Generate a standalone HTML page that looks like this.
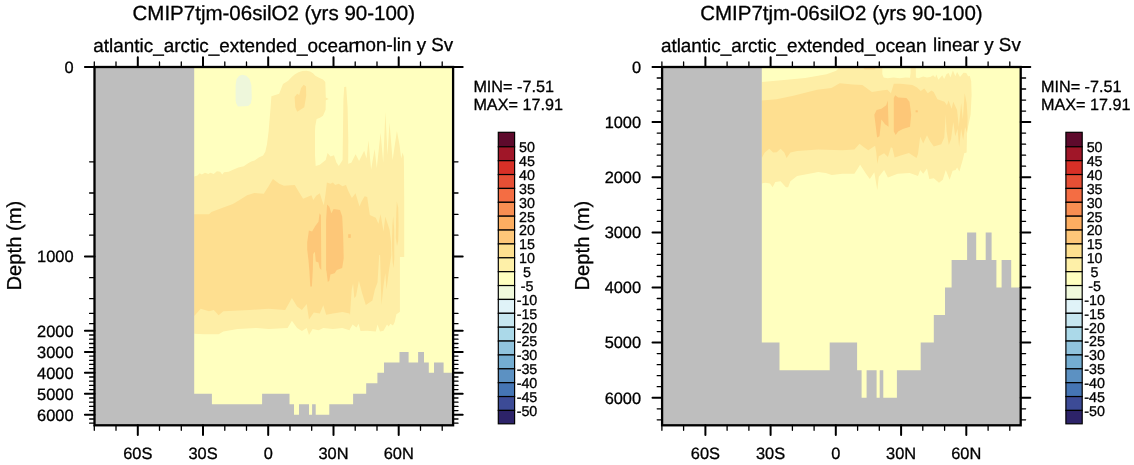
<!DOCTYPE html>
<html><head><meta charset="utf-8"><title>CMIP7tjm-06silO2 (yrs 90-100)</title>
<style>
html,body{margin:0;padding:0;background:#fff;}
svg{display:block;}
text{font-family:"Liberation Sans",Arial,Helvetica,sans-serif;fill:#000;stroke:#000;stroke-width:0.3px;text-rendering:geometricPrecision;}
svg{will-change:transform;}
</style></head><body>
<svg width="1134" height="465" viewBox="0 0 1134 465">
<rect width="1134" height="465" fill="#fff"/>
<g transform="translate(0.0,0)">
<rect x="94.5" y="67.0" width="358.6" height="358.3" fill="#ffffbf"/>
<polygon points="194.2,176.6 197.5,175.5 199.7,173.3 201.8,174.4 205.0,172.7 208.3,174.0 210.4,172.7 213.7,174.0 216.9,171.2 220.1,171.8 222.3,174.4 224.0,172.3 228.7,171.8 233.0,169.7 238.4,167.5 243.8,166.2 248.1,163.2 251.3,161.5 254.5,160.4 258.8,157.6 263.1,155.5 265.3,151.8 267.0,144.3 268.6,131.4 270.6,107.6 271.4,96.3 279.2,93.7 283.0,84.1 288.2,80.8 291.5,77.2 294.6,74.4 298.5,72.2 302.4,70.9 306.5,70.8 310.1,71.4 313.0,73.3 315.3,75.7 319.0,77.8 323.0,79.5 325.3,82.1 325.8,97.6 328.8,98.9 325.8,100.2 325.6,109.8 323.0,115.7 320.0,117.8 316.6,118.9 315.3,126.0 315.0,131.4 315.0,155.2 315.7,166.0 319.8,164.8 325.7,160.0 327.6,152.9 330.5,156.4 334.0,155.2 336.4,162.4 338.8,166.0 342.6,160.0 343.4,100.0 344.2,87.0 346.2,86.7 347.6,107.6 348.3,140.0 348.2,163.7 351.3,162.8 355.6,154.2 359.1,161.1 364.2,150.8 366.5,158.5 368.5,140.5 371.1,169.7 374.6,149.1 376.8,168.0 380.6,132.7 383.2,162.8 385.4,112.1 387.5,155.1 389.5,122.4 392.6,160.3 396.9,131.0 399.5,144.8 401.2,158.5 402.6,152.5 403.8,156.8 404.0,170.0 404.2,200.0 404.2,257.0 399.9,257.0 399.9,311.7 399.0,312.6 396.4,314.3 394.7,322.0 393.0,325.5 390.4,323.8 388.7,326.4 387.0,324.6 383.5,330.7 380.0,331.5 377.5,324.6 375.8,331.5 367.2,330.7 360.5,331.0 358.6,323.8 356.5,327.5 352.6,324.6 350.0,329.0 349.5,330.2 342.4,327.9 332.9,329.0 323.3,327.9 318.6,330.2 312.6,329.0 309.0,335.0 306.7,327.9 301.9,331.0 297.1,327.9 291.9,320.7 287.6,327.9 268.6,329.0 256.7,327.9 237.6,329.0 223.3,331.4 218.6,334.3 204.3,334.3 194.2,333.8" fill="#feeea6"/>
<polygon points="194.2,214.3 209.0,214.3 211.4,211.9 222.0,208.0 232.9,204.0 240.0,199.8 247.1,195.2 254.3,192.9 263.8,193.8 268.6,186.2 272.9,179.0 279.3,183.8 284.0,185.7 294.8,185.0 298.3,191.0 303.1,198.8 311.4,195.2 313.3,200.0 316.2,195.7 319.8,193.3 322.1,200.5 323.8,205.2 325.4,195.0 326.9,182.6 330.5,183.8 332.9,182.6 335.2,185.0 338.8,183.8 342.4,186.2 346.0,185.0 348.3,191.0 351.9,198.1 355.5,193.3 359.5,206.4 361.4,201.7 364.6,196.2 367.2,197.0 369.8,215.1 375.8,217.7 378.4,223.7 380.6,214.2 383.5,231.4 385.3,216.8 389.6,229.7 391.0,241.7 391.3,255.0 388.7,272.2 386.5,289.4 385.3,273.0 383.5,286.0 381.5,304.9 381.0,289.4 380.1,255.0 379.2,255.0 377.5,282.5 374.9,289.4 372.4,300.6 365.8,304.9 362.0,292.8 358.9,280.8 356.0,296.3 354.3,298.0 353.1,283.4 351.7,289.4 350.0,315.2 349.5,313.6 342.4,311.9 332.9,313.6 326.2,314.8 323.3,305.2 319.8,313.6 313.8,312.4 309.0,319.5 306.7,304.0 301.9,310.0 297.1,306.4 291.9,298.1 285.2,310.0 268.6,308.8 249.5,310.0 223.3,311.2 218.6,315.2 213.8,310.0 209.0,311.2 200.7,308.8 194.2,316.0" fill="#fedf90"/>
<polygon points="303.7,84.7 306.0,86.6 306.2,95.7 304.3,107.3 297.2,111.8 295.3,107.3 294.6,97.0 297.2,93.7 299.2,95.0 301.1,87.9" fill="#fedf90"/>
<polygon points="391.9,245.0 392.4,225.0 393.2,216.0 394.2,230.0 394.3,258.0 393.6,268.0 392.6,262.0" fill="#fedf90"/>
<polygon points="395.8,238.0 396.2,215.0 396.8,201.5 398.2,207.4 398.6,225.0 398.2,241.0 397.0,246.0" fill="#fedf90"/>
<polygon points="307.2,242.2 308.9,230.4 312.1,231.4 315.3,226.0 318.5,221.8 319.6,213.2 320.9,215.3 321.3,270.0 319.6,268.0 318.5,262.6 315.8,261.5 314.9,251.8 313.2,254.0 312.8,270.0 311.9,286.5 310.3,286.5 309.3,270.0 308.5,260.4 307.2,249.7" fill="#fdc778"/>
<polygon points="326.1,270.0 326.1,219.5 327.1,204.6 329.3,206.7 331.4,213.2 333.6,208.9 340.0,210.0 342.2,216.4 343.2,236.8 343.7,258.3 342.2,267.9 336.8,270.1 334.6,273.3 330.4,274.4 329.3,280.8 327.8,281.9 326.5,271.2" fill="#fdc778"/>
<polygon points="348.2,234.2 350.8,234.2 350.8,237.9 348.2,237.9" fill="#fdc778"/>
<polygon points="242.4,74.8 246.3,75.7 249.5,78.9 251.4,85.3 251.8,98.2 250.8,103.4 248.2,106.0 244.3,106.2 237.9,106.6 236.3,103.4 235.6,100.8 235.6,85.3 236.6,78.9 239.2,75.7" fill="#eef7db"/>
<polygon points="94.5,67.0 194.2,67.0 194.2,393.8 211.9,393.8 211.9,404.3 262.1,404.3 262.1,393.8 289.5,393.8 289.5,404.3 294.0,404.3 294.0,414.8 299.0,414.8 299.0,404.3 309.0,404.3 309.0,414.8 312.1,414.8 312.1,404.3 315.7,404.3 315.7,414.8 329.3,414.8 329.3,404.3 353.1,404.3 353.1,393.8 366.2,393.8 366.2,383.3 377.4,383.3 377.4,372.8 384.0,372.8 384.0,362.4 399.5,362.4 399.5,351.9 408.6,351.9 408.6,362.4 418.1,362.4 418.1,351.9 424.0,351.9 424.0,362.4 428.8,362.4 428.8,372.8 434.0,372.8 434.0,362.4 443.6,362.4 443.6,372.8 453.1,372.8 453.1,425.3 94.5,425.3" fill="#bebebe"/>
<rect x="94.5" y="67.0" width="358.6" height="358.3" fill="none" stroke="#000" stroke-width="2.3"/>
<g stroke="#000" fill="none" stroke-linecap="round"><path d="M94.3 67.0v-5.0M94.3 425.3v5.0" stroke-width="1.3"/><path d="M116.0 67.0v-5.0M116.0 425.3v5.0" stroke-width="1.3"/><path d="M137.8 67.0v-9.8M137.8 425.3v9.8" stroke-width="2.0"/><path d="M159.5 67.0v-5.0M159.5 425.3v5.0" stroke-width="1.3"/><path d="M181.3 67.0v-5.0M181.3 425.3v5.0" stroke-width="1.3"/><path d="M203.0 67.0v-9.8M203.0 425.3v9.8" stroke-width="2.0"/><path d="M224.8 67.0v-5.0M224.8 425.3v5.0" stroke-width="1.3"/><path d="M246.5 67.0v-5.0M246.5 425.3v5.0" stroke-width="1.3"/><path d="M268.2 67.0v-9.8M268.2 425.3v9.8" stroke-width="2.0"/><path d="M290.0 67.0v-5.0M290.0 425.3v5.0" stroke-width="1.3"/><path d="M311.7 67.0v-5.0M311.7 425.3v5.0" stroke-width="1.3"/><path d="M333.5 67.0v-9.8M333.5 425.3v9.8" stroke-width="2.0"/><path d="M355.2 67.0v-5.0M355.2 425.3v5.0" stroke-width="1.3"/><path d="M377.0 67.0v-5.0M377.0 425.3v5.0" stroke-width="1.3"/><path d="M398.7 67.0v-9.8M398.7 425.3v9.8" stroke-width="2.0"/><path d="M420.5 67.0v-5.0M420.5 425.3v5.0" stroke-width="1.3"/><path d="M442.2 67.0v-5.0M442.2 425.3v5.0" stroke-width="1.3"/><path d="M94.5 67.0h-9.6M453.1 67.0h9.6" stroke-width="2.0"/><path d="M94.5 161.8h-4.9M453.1 161.8h4.9" stroke-width="1.3"/><path d="M94.5 193.0h-4.9M453.1 193.0h4.9" stroke-width="1.3"/><path d="M94.5 214.4h-4.9M453.1 214.4h4.9" stroke-width="1.3"/><path d="M94.5 235.2h-4.9M453.1 235.2h4.9" stroke-width="1.3"/><path d="M94.5 256.4h-9.6M453.1 256.4h9.6" stroke-width="2.0"/><path d="M94.5 277.7h-4.9M453.1 277.7h4.9" stroke-width="1.3"/><path d="M94.5 298.6h-4.9M453.1 298.6h4.9" stroke-width="1.3"/><path d="M94.5 313.4h-4.9M453.1 313.4h4.9" stroke-width="1.3"/><path d="M94.5 323.7h-4.9M453.1 323.7h4.9" stroke-width="1.3"/><path d="M94.5 330.8h-9.6M453.1 330.8h9.6" stroke-width="2.0"/><path d="M94.5 335.0h-4.9M453.1 335.0h4.9" stroke-width="1.3"/><path d="M94.5 339.2h-4.9M453.1 339.2h4.9" stroke-width="1.3"/><path d="M94.5 343.5h-4.9M453.1 343.5h4.9" stroke-width="1.3"/><path d="M94.5 347.7h-4.9M453.1 347.7h4.9" stroke-width="1.3"/><path d="M94.5 351.9h-9.6M453.1 351.9h9.6" stroke-width="2.0"/><path d="M94.5 356.1h-4.9M453.1 356.1h4.9" stroke-width="1.3"/><path d="M94.5 360.3h-4.9M453.1 360.3h4.9" stroke-width="1.3"/><path d="M94.5 364.4h-4.9M453.1 364.4h4.9" stroke-width="1.3"/><path d="M94.5 368.6h-4.9M453.1 368.6h4.9" stroke-width="1.3"/><path d="M94.5 372.8h-9.6M453.1 372.8h9.6" stroke-width="2.0"/><path d="M94.5 377.0h-4.9M453.1 377.0h4.9" stroke-width="1.3"/><path d="M94.5 381.2h-4.9M453.1 381.2h4.9" stroke-width="1.3"/><path d="M94.5 385.4h-4.9M453.1 385.4h4.9" stroke-width="1.3"/><path d="M94.5 389.6h-4.9M453.1 389.6h4.9" stroke-width="1.3"/><path d="M94.5 393.8h-9.6M453.1 393.8h9.6" stroke-width="2.0"/><path d="M94.5 398.0h-4.9M453.1 398.0h4.9" stroke-width="1.3"/><path d="M94.5 402.2h-4.9M453.1 402.2h4.9" stroke-width="1.3"/><path d="M94.5 406.4h-4.9M453.1 406.4h4.9" stroke-width="1.3"/><path d="M94.5 410.6h-4.9M453.1 410.6h4.9" stroke-width="1.3"/><path d="M94.5 414.8h-9.6M453.1 414.8h9.6" stroke-width="2.0"/><path d="M94.5 419.0h-4.9M453.1 419.0h4.9" stroke-width="1.3"/><path d="M94.5 423.2h-4.9M453.1 423.2h4.9" stroke-width="1.3"/></g>
<text x="273.8" y="19.8" font-size="20.5" text-anchor="middle">CMIP7tjm-06silO2 (yrs 90-100)</text>
<text x="93.3" y="52.1" font-size="18.9">atlantic_arctic_extended_ocean</text>
<text x="453.2" y="51.4" font-size="18.8" text-anchor="end">non-lin y Sv</text>
<text transform="translate(20.9,245.6) rotate(-90)" font-size="20.2" text-anchor="middle">Depth (m)</text>
<text x="137.8" y="458.9" font-size="16.4" text-anchor="middle">60S</text>
<text x="203.0" y="458.9" font-size="16.4" text-anchor="middle">30S</text>
<text x="268.2" y="458.9" font-size="16.4" text-anchor="middle">0</text>
<text x="333.5" y="458.9" font-size="16.4" text-anchor="middle">30N</text>
<text x="398.7" y="458.9" font-size="16.4" text-anchor="middle">60N</text>
<text x="73.5" y="72.8" font-size="16.4" text-anchor="end">0</text>
<text x="73.5" y="262.2" font-size="16.4" text-anchor="end">1000</text>
<text x="73.5" y="336.6" font-size="16.4" text-anchor="end">2000</text>
<text x="73.5" y="357.7" font-size="16.4" text-anchor="end">3000</text>
<text x="73.5" y="378.6" font-size="16.4" text-anchor="end">4000</text>
<text x="73.5" y="399.6" font-size="16.4" text-anchor="end">5000</text>
<text x="73.5" y="420.6" font-size="16.4" text-anchor="end">6000</text>
<text x="473.4" y="91.9" font-size="16.2">MIN= -7.51</text>
<text x="473.4" y="110.3" font-size="16.2">MAX= 17.91</text>
<rect x="498.3" y="132.30" width="16.3" height="14.50" fill="#5e0a2c" stroke="#000" stroke-width="1.2"/>
<rect x="498.3" y="146.80" width="16.3" height="13.88" fill="#a01628" stroke="#000" stroke-width="1.2"/>
<rect x="498.3" y="160.68" width="16.3" height="13.88" fill="#d73027" stroke="#000" stroke-width="1.2"/>
<rect x="498.3" y="174.55" width="16.3" height="13.88" fill="#e64f35" stroke="#000" stroke-width="1.2"/>
<rect x="498.3" y="188.43" width="16.3" height="13.88" fill="#f46d43" stroke="#000" stroke-width="1.2"/>
<rect x="498.3" y="202.30" width="16.3" height="13.88" fill="#f88e52" stroke="#000" stroke-width="1.2"/>
<rect x="498.3" y="216.18" width="16.3" height="13.88" fill="#fdae61" stroke="#000" stroke-width="1.2"/>
<rect x="498.3" y="230.05" width="16.3" height="13.88" fill="#fec779" stroke="#000" stroke-width="1.2"/>
<rect x="498.3" y="243.93" width="16.3" height="13.88" fill="#fee090" stroke="#000" stroke-width="1.2"/>
<rect x="498.3" y="257.80" width="16.3" height="13.88" fill="#fef0a8" stroke="#000" stroke-width="1.2"/>
<rect x="498.3" y="271.68" width="16.3" height="13.88" fill="#ffffbf" stroke="#000" stroke-width="1.2"/>
<rect x="498.3" y="285.55" width="16.3" height="13.88" fill="#f0f9dc" stroke="#000" stroke-width="1.2"/>
<rect x="498.3" y="299.43" width="16.3" height="13.88" fill="#e0f3f8" stroke="#000" stroke-width="1.2"/>
<rect x="498.3" y="313.30" width="16.3" height="13.88" fill="#c6e6f0" stroke="#000" stroke-width="1.2"/>
<rect x="498.3" y="327.18" width="16.3" height="13.88" fill="#abd9e9" stroke="#000" stroke-width="1.2"/>
<rect x="498.3" y="341.05" width="16.3" height="13.88" fill="#90c3dd" stroke="#000" stroke-width="1.2"/>
<rect x="498.3" y="354.93" width="16.3" height="13.88" fill="#74add1" stroke="#000" stroke-width="1.2"/>
<rect x="498.3" y="368.80" width="16.3" height="13.88" fill="#5c91c2" stroke="#000" stroke-width="1.2"/>
<rect x="498.3" y="382.68" width="16.3" height="13.88" fill="#4575b4" stroke="#000" stroke-width="1.2"/>
<rect x="498.3" y="396.55" width="16.3" height="13.88" fill="#3c4b96" stroke="#000" stroke-width="1.2"/>
<rect x="498.3" y="410.43" width="16.3" height="13.38" fill="#2d2369" stroke="#000" stroke-width="1.2"/>
<text x="527" y="152.1" font-size="14.3" text-anchor="middle">50</text>
<text x="527" y="166.0" font-size="14.3" text-anchor="middle">45</text>
<text x="527" y="179.9" font-size="14.3" text-anchor="middle">40</text>
<text x="527" y="193.7" font-size="14.3" text-anchor="middle">35</text>
<text x="527" y="207.6" font-size="14.3" text-anchor="middle">30</text>
<text x="527" y="221.5" font-size="14.3" text-anchor="middle">25</text>
<text x="527" y="235.4" font-size="14.3" text-anchor="middle">20</text>
<text x="527" y="249.2" font-size="14.3" text-anchor="middle">15</text>
<text x="527" y="263.1" font-size="14.3" text-anchor="middle">10</text>
<text x="527" y="277.0" font-size="14.3" text-anchor="middle">5</text>
<text x="527" y="290.9" font-size="14.3" text-anchor="middle">-5</text>
<text x="527" y="304.7" font-size="14.3" text-anchor="middle">-10</text>
<text x="527" y="318.6" font-size="14.3" text-anchor="middle">-15</text>
<text x="527" y="332.5" font-size="14.3" text-anchor="middle">-20</text>
<text x="527" y="346.4" font-size="14.3" text-anchor="middle">-25</text>
<text x="527" y="360.2" font-size="14.3" text-anchor="middle">-30</text>
<text x="527" y="374.1" font-size="14.3" text-anchor="middle">-35</text>
<text x="527" y="388.0" font-size="14.3" text-anchor="middle">-40</text>
<text x="527" y="401.9" font-size="14.3" text-anchor="middle">-45</text>
<text x="527" y="415.7" font-size="14.3" text-anchor="middle">-50</text>
</g>
<g transform="translate(567.6,0)">
<rect x="94.5" y="67.0" width="358.6" height="358.3" fill="#ffffbf"/>
<polygon points="194.2,81.9 213.8,80.2 237.6,77.9 259.0,74.3 268.6,70.7 272.1,67.0 314.7,67.0 314.7,74.0 316.0,77.4 320.0,78.3 326.0,77.4 332.0,78.3 338.0,77.6 342.4,77.8 343.0,73.0 343.0,67.0 348.2,67.0 348.3,77.6 350.7,78.3 355.7,76.6 359.2,77.6 362.7,76.9 365.6,75.2 367.7,77.6 368.7,74.5 370.8,79.8 374.7,75.2 376.5,79.0 379.0,74.1 381.1,73.1 382.8,77.6 385.3,70.6 387.8,76.2 389.5,72.0 392.4,76.9 395.9,72.7 398.7,73.1 400.5,76.2 402.2,75.9 403.6,81.2 404.0,95.0 403.0,114.8 399.5,131.4 399.0,152.6 396.6,153.3 395.5,158.6 391.8,171.4 389.5,167.6 388.0,169.9 385.0,170.7 382.0,179.7 378.2,169.9 375.2,179.7 371.4,182.7 366.2,178.2 361.7,178.9 359.4,168.4 355.6,173.7 352.6,169.9 350.4,175.9 342.1,172.9 330.1,173.7 320.3,177.4 316.5,169.9 311.2,176.7 309.7,190.2 306.7,172.2 302.2,178.9 298.4,173.7 292.4,164.6 292.8,164.3 286.8,173.7 274.7,173.7 264.2,174.9 258.2,172.9 250.6,171.9 241.6,173.7 229.5,175.9 222.8,181.2 220.5,187.2 218.3,187.2 213.0,181.2 207.7,181.9 205.0,187.2 202.4,183.4 197.9,182.7 194.2,183.4" fill="#feeea6"/>
<polygon points="194.2,100.5 209.0,99.3 225.7,95.7 249.5,89.8 263.8,88.1 272.1,83.3 285.2,84.5 294.8,85.0 304.3,92.1 313.8,90.5 319.8,89.8 323.3,93.3 326.2,83.8 332.9,83.8 344.8,85.0 349.5,87.4 353.1,91.0 356.7,88.6 360.2,93.3 363.8,90.5 366.1,92.1 369.8,99.3 376.9,101.7 379.3,105.2 381.0,100.5 384.0,108.8 385.7,101.7 389.5,110.0 391.2,126.7 393.6,102.9 395.2,119.5 397.1,93.3 399.0,102.9 400.0,118.0 399.5,133.0 397.5,127.0 395.5,140.0 393.5,129.0 391.5,147.0 390.0,129.0 387.6,136.2 385.7,121.9 384.5,131.0 383.5,139.0 381.2,145.1 379.0,131.5 378.1,114.8 376.7,137.5 373.7,144.3 366.2,146.6 362.4,141.3 359.4,135.3 355.6,143.6 352.6,136.8 350.4,154.1 348.9,157.9 341.3,152.9 333.1,155.6 327.0,157.4 324.8,148.1 323.3,147.3 320.3,157.1 316.5,153.3 311.2,156.3 309.7,163.9 308.7,152.6 307.5,145.8 300.7,150.3 296.0,147.0 291.9,143.8 286.8,149.6 274.7,150.3 250.6,149.6 229.5,151.1 222.8,152.6 219.0,157.9 216.7,152.6 213.0,148.8 209.2,152.3 205.5,152.6 201.7,148.8 197.2,152.6 194.2,157.9" fill="#fedf90"/>
<polygon points="295.0,67.0 309.0,67.0 307.0,69.4 297.0,69.4" fill="#fedf90"/>
<polygon points="306.7,114.8 309.0,110.0 313.8,108.8 318.6,105.2 320.2,100.5 321.0,126.7 317.4,124.3 313.8,119.5 311.9,136.2 309.5,137.4 307.9,124.3" fill="#fdc778"/>
<polygon points="326.2,131.4 326.2,98.1 327.6,95.2 330.5,97.6 338.8,98.1 341.9,101.7 343.6,114.8 342.4,126.7 335.2,129.0 330.5,131.4 328.1,135.0" fill="#fdc778"/>
<polygon points="348.0,110.3 350.2,110.3 350.2,112.3 348.0,112.3" fill="#fdc778"/>
<polygon points="94.5,67.0 194.2,67.0 194.2,342.6 211.9,342.6 211.9,370.2 262.1,370.2 262.1,342.6 289.5,342.6 289.5,370.2 294.0,370.2 294.0,397.7 299.0,397.7 299.0,370.2 309.0,370.2 309.0,397.7 312.1,397.7 312.1,370.2 315.7,370.2 315.7,397.7 329.3,397.7 329.3,370.2 353.1,370.2 353.1,342.6 366.2,342.6 366.2,315.1 377.4,315.1 377.4,287.5 384.0,287.5 384.0,259.9 399.5,259.9 399.5,232.4 408.6,232.4 408.6,259.9 418.1,259.9 418.1,232.4 424.0,232.4 424.0,259.9 428.8,259.9 428.8,287.5 434.0,287.5 434.0,259.9 443.6,259.9 443.6,287.5 453.1,287.5 453.1,425.3 94.5,425.3" fill="#bebebe"/>
<rect x="94.5" y="67.0" width="358.6" height="358.3" fill="none" stroke="#000" stroke-width="2.3"/>
<g stroke="#000" fill="none" stroke-linecap="round"><path d="M94.3 67.0v-5.0M94.3 425.3v5.0" stroke-width="1.3"/><path d="M116.0 67.0v-5.0M116.0 425.3v5.0" stroke-width="1.3"/><path d="M137.8 67.0v-9.8M137.8 425.3v9.8" stroke-width="2.0"/><path d="M159.5 67.0v-5.0M159.5 425.3v5.0" stroke-width="1.3"/><path d="M181.3 67.0v-5.0M181.3 425.3v5.0" stroke-width="1.3"/><path d="M203.0 67.0v-9.8M203.0 425.3v9.8" stroke-width="2.0"/><path d="M224.8 67.0v-5.0M224.8 425.3v5.0" stroke-width="1.3"/><path d="M246.5 67.0v-5.0M246.5 425.3v5.0" stroke-width="1.3"/><path d="M268.2 67.0v-9.8M268.2 425.3v9.8" stroke-width="2.0"/><path d="M290.0 67.0v-5.0M290.0 425.3v5.0" stroke-width="1.3"/><path d="M311.7 67.0v-5.0M311.7 425.3v5.0" stroke-width="1.3"/><path d="M333.5 67.0v-9.8M333.5 425.3v9.8" stroke-width="2.0"/><path d="M355.2 67.0v-5.0M355.2 425.3v5.0" stroke-width="1.3"/><path d="M377.0 67.0v-5.0M377.0 425.3v5.0" stroke-width="1.3"/><path d="M398.7 67.0v-9.8M398.7 425.3v9.8" stroke-width="2.0"/><path d="M420.5 67.0v-5.0M420.5 425.3v5.0" stroke-width="1.3"/><path d="M442.2 67.0v-5.0M442.2 425.3v5.0" stroke-width="1.3"/><path d="M94.5 67.0h-9.6M453.1 67.0h9.6" stroke-width="2.0"/><path d="M94.5 78.0h-4.9M453.1 78.0h4.9" stroke-width="1.3"/><path d="M94.5 89.0h-4.9M453.1 89.0h4.9" stroke-width="1.3"/><path d="M94.5 100.1h-4.9M453.1 100.1h4.9" stroke-width="1.3"/><path d="M94.5 111.1h-4.9M453.1 111.1h4.9" stroke-width="1.3"/><path d="M94.5 122.1h-9.6M453.1 122.1h9.6" stroke-width="2.0"/><path d="M94.5 133.1h-4.9M453.1 133.1h4.9" stroke-width="1.3"/><path d="M94.5 144.2h-4.9M453.1 144.2h4.9" stroke-width="1.3"/><path d="M94.5 155.2h-4.9M453.1 155.2h4.9" stroke-width="1.3"/><path d="M94.5 166.2h-4.9M453.1 166.2h4.9" stroke-width="1.3"/><path d="M94.5 177.2h-9.6M453.1 177.2h9.6" stroke-width="2.0"/><path d="M94.5 188.3h-4.9M453.1 188.3h4.9" stroke-width="1.3"/><path d="M94.5 199.3h-4.9M453.1 199.3h4.9" stroke-width="1.3"/><path d="M94.5 210.3h-4.9M453.1 210.3h4.9" stroke-width="1.3"/><path d="M94.5 221.3h-4.9M453.1 221.3h4.9" stroke-width="1.3"/><path d="M94.5 232.4h-9.6M453.1 232.4h9.6" stroke-width="2.0"/><path d="M94.5 243.4h-4.9M453.1 243.4h4.9" stroke-width="1.3"/><path d="M94.5 254.4h-4.9M453.1 254.4h4.9" stroke-width="1.3"/><path d="M94.5 265.4h-4.9M453.1 265.4h4.9" stroke-width="1.3"/><path d="M94.5 276.5h-4.9M453.1 276.5h4.9" stroke-width="1.3"/><path d="M94.5 287.5h-9.6M453.1 287.5h9.6" stroke-width="2.0"/><path d="M94.5 298.5h-4.9M453.1 298.5h4.9" stroke-width="1.3"/><path d="M94.5 309.5h-4.9M453.1 309.5h4.9" stroke-width="1.3"/><path d="M94.5 320.6h-4.9M453.1 320.6h4.9" stroke-width="1.3"/><path d="M94.5 331.6h-4.9M453.1 331.6h4.9" stroke-width="1.3"/><path d="M94.5 342.6h-9.6M453.1 342.6h9.6" stroke-width="2.0"/><path d="M94.5 353.6h-4.9M453.1 353.6h4.9" stroke-width="1.3"/><path d="M94.5 364.7h-4.9M453.1 364.7h4.9" stroke-width="1.3"/><path d="M94.5 375.7h-4.9M453.1 375.7h4.9" stroke-width="1.3"/><path d="M94.5 386.7h-4.9M453.1 386.7h4.9" stroke-width="1.3"/><path d="M94.5 397.7h-9.6M453.1 397.7h9.6" stroke-width="2.0"/><path d="M94.5 408.8h-4.9M453.1 408.8h4.9" stroke-width="1.3"/><path d="M94.5 419.8h-4.9M453.1 419.8h4.9" stroke-width="1.3"/></g>
<text x="273.8" y="19.8" font-size="20.5" text-anchor="middle">CMIP7tjm-06silO2 (yrs 90-100)</text>
<text x="93.3" y="52.1" font-size="18.9">atlantic_arctic_extended_ocean</text>
<text x="453.2" y="51.4" font-size="18.8" text-anchor="end">linear y Sv</text>
<text transform="translate(20.9,245.6) rotate(-90)" font-size="20.2" text-anchor="middle">Depth (m)</text>
<text x="137.8" y="458.9" font-size="16.4" text-anchor="middle">60S</text>
<text x="203.0" y="458.9" font-size="16.4" text-anchor="middle">30S</text>
<text x="268.2" y="458.9" font-size="16.4" text-anchor="middle">0</text>
<text x="333.5" y="458.9" font-size="16.4" text-anchor="middle">30N</text>
<text x="398.7" y="458.9" font-size="16.4" text-anchor="middle">60N</text>
<text x="73.5" y="72.8" font-size="16.4" text-anchor="end">0</text>
<text x="73.5" y="127.9" font-size="16.4" text-anchor="end">1000</text>
<text x="73.5" y="183.0" font-size="16.4" text-anchor="end">2000</text>
<text x="73.5" y="238.2" font-size="16.4" text-anchor="end">3000</text>
<text x="73.5" y="293.3" font-size="16.4" text-anchor="end">4000</text>
<text x="73.5" y="348.4" font-size="16.4" text-anchor="end">5000</text>
<text x="73.5" y="403.5" font-size="16.4" text-anchor="end">6000</text>
<text x="473.4" y="91.9" font-size="16.2">MIN= -7.51</text>
<text x="473.4" y="110.3" font-size="16.2">MAX= 17.91</text>
<rect x="498.3" y="132.30" width="16.3" height="14.50" fill="#5e0a2c" stroke="#000" stroke-width="1.2"/>
<rect x="498.3" y="146.80" width="16.3" height="13.88" fill="#a01628" stroke="#000" stroke-width="1.2"/>
<rect x="498.3" y="160.68" width="16.3" height="13.88" fill="#d73027" stroke="#000" stroke-width="1.2"/>
<rect x="498.3" y="174.55" width="16.3" height="13.88" fill="#e64f35" stroke="#000" stroke-width="1.2"/>
<rect x="498.3" y="188.43" width="16.3" height="13.88" fill="#f46d43" stroke="#000" stroke-width="1.2"/>
<rect x="498.3" y="202.30" width="16.3" height="13.88" fill="#f88e52" stroke="#000" stroke-width="1.2"/>
<rect x="498.3" y="216.18" width="16.3" height="13.88" fill="#fdae61" stroke="#000" stroke-width="1.2"/>
<rect x="498.3" y="230.05" width="16.3" height="13.88" fill="#fec779" stroke="#000" stroke-width="1.2"/>
<rect x="498.3" y="243.93" width="16.3" height="13.88" fill="#fee090" stroke="#000" stroke-width="1.2"/>
<rect x="498.3" y="257.80" width="16.3" height="13.88" fill="#fef0a8" stroke="#000" stroke-width="1.2"/>
<rect x="498.3" y="271.68" width="16.3" height="13.88" fill="#ffffbf" stroke="#000" stroke-width="1.2"/>
<rect x="498.3" y="285.55" width="16.3" height="13.88" fill="#f0f9dc" stroke="#000" stroke-width="1.2"/>
<rect x="498.3" y="299.43" width="16.3" height="13.88" fill="#e0f3f8" stroke="#000" stroke-width="1.2"/>
<rect x="498.3" y="313.30" width="16.3" height="13.88" fill="#c6e6f0" stroke="#000" stroke-width="1.2"/>
<rect x="498.3" y="327.18" width="16.3" height="13.88" fill="#abd9e9" stroke="#000" stroke-width="1.2"/>
<rect x="498.3" y="341.05" width="16.3" height="13.88" fill="#90c3dd" stroke="#000" stroke-width="1.2"/>
<rect x="498.3" y="354.93" width="16.3" height="13.88" fill="#74add1" stroke="#000" stroke-width="1.2"/>
<rect x="498.3" y="368.80" width="16.3" height="13.88" fill="#5c91c2" stroke="#000" stroke-width="1.2"/>
<rect x="498.3" y="382.68" width="16.3" height="13.88" fill="#4575b4" stroke="#000" stroke-width="1.2"/>
<rect x="498.3" y="396.55" width="16.3" height="13.88" fill="#3c4b96" stroke="#000" stroke-width="1.2"/>
<rect x="498.3" y="410.43" width="16.3" height="13.38" fill="#2d2369" stroke="#000" stroke-width="1.2"/>
<text x="527" y="152.1" font-size="14.3" text-anchor="middle">50</text>
<text x="527" y="166.0" font-size="14.3" text-anchor="middle">45</text>
<text x="527" y="179.9" font-size="14.3" text-anchor="middle">40</text>
<text x="527" y="193.7" font-size="14.3" text-anchor="middle">35</text>
<text x="527" y="207.6" font-size="14.3" text-anchor="middle">30</text>
<text x="527" y="221.5" font-size="14.3" text-anchor="middle">25</text>
<text x="527" y="235.4" font-size="14.3" text-anchor="middle">20</text>
<text x="527" y="249.2" font-size="14.3" text-anchor="middle">15</text>
<text x="527" y="263.1" font-size="14.3" text-anchor="middle">10</text>
<text x="527" y="277.0" font-size="14.3" text-anchor="middle">5</text>
<text x="527" y="290.9" font-size="14.3" text-anchor="middle">-5</text>
<text x="527" y="304.7" font-size="14.3" text-anchor="middle">-10</text>
<text x="527" y="318.6" font-size="14.3" text-anchor="middle">-15</text>
<text x="527" y="332.5" font-size="14.3" text-anchor="middle">-20</text>
<text x="527" y="346.4" font-size="14.3" text-anchor="middle">-25</text>
<text x="527" y="360.2" font-size="14.3" text-anchor="middle">-30</text>
<text x="527" y="374.1" font-size="14.3" text-anchor="middle">-35</text>
<text x="527" y="388.0" font-size="14.3" text-anchor="middle">-40</text>
<text x="527" y="401.9" font-size="14.3" text-anchor="middle">-45</text>
<text x="527" y="415.7" font-size="14.3" text-anchor="middle">-50</text>
</g>
</svg>
</body></html>
